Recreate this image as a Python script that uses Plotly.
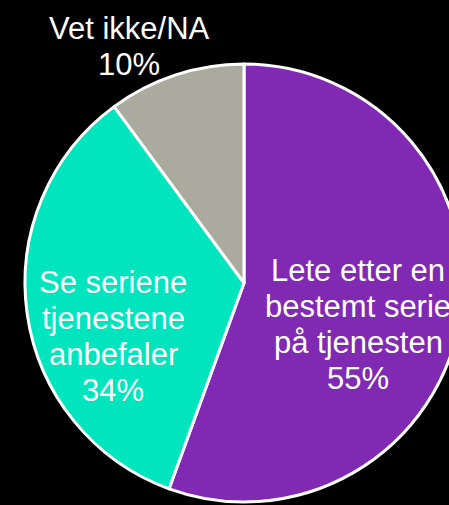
import plotly.graph_objects as go

# Survey answers: how people pick a series on the streaming service
labels = [
    "Lete etter en<br>bestemt serie<br>på tjenesten",
    "Se seriene<br>tjenestene<br>anbefaler",
    "Vet ikke/NA",
]
shares = [55, 34, 10]
colors = ["#802AB4", "#00E5BE", "#AAAA9E"]

# first-line position of each label in pixels (x centre from left, y from top)
label_px = [(358, 270), (113, 282), (129, 28)]
LINE_PITCH = 36
FONT_SIZE = 31

W, H = 470, 505
cx, cy, r = 244, 283, 219

fig = go.Figure(
    go.Pie(
        labels=labels,
        values=shares,
        sort=False,
        direction="clockwise",
        rotation=0,
        marker=dict(colors=colors, line=dict(color="white", width=3)),
        textinfo="none",
        hoverinfo="skip",
        showlegend=False,
        domain=dict(
            x=[(cx - r) / W, (cx + r) / W],
            y=[(H - cy - r) / H, (H - cy + r) / H],
        ),
    )
)

# one annotation per text line so the line spacing can be set tightly
for lab, val, (px, py) in zip(labels, shares, label_px):
    lines = lab.split("<br>") + [f"{val}%"]
    for i, line in enumerate(lines):
        fig.add_annotation(
            x=px / W,
            y=1 - (py + i * LINE_PITCH) / H,
            xref="paper",
            yref="paper",
            xanchor="center",
            yanchor="middle",
            text=line,
            showarrow=False,
            font=dict(family="Liberation Sans, Arial, sans-serif", size=FONT_SIZE, color="white"),
        )

fig.update_layout(
    width=W,
    height=H,
    margin=dict(l=0, r=0, t=0, b=0, autoexpand=False),
    paper_bgcolor="black",
    plot_bgcolor="black",
    showlegend=False,
)

fig.write_html(
    "out.html",
    post_script="document.body.style.margin='0';document.body.style.overflow='hidden';",
)
